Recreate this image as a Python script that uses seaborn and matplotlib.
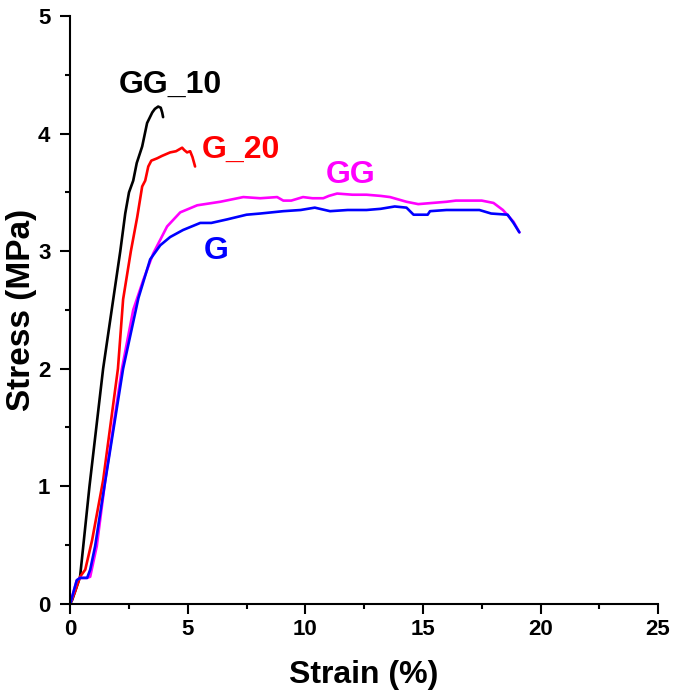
import seaborn as sns
import matplotlib.pyplot as plt
import matplotlib.ticker as mticker
import pandas as pd

# stress-strain curves (strain %, stress MPa)
gg10_strain = [0, 0.08, 0.42, 0.82, 1.4, 1.83, 2.13, 2.34, 2.5, 2.68, 2.83, 3.06, 3.27,
               3.49, 3.6, 3.74, 3.85, 3.91, 3.95]
gg10_stress = [0, 0.03, 0.23, 1.0, 2.0, 2.59, 3.0, 3.32, 3.5, 3.6, 3.75, 3.89, 4.09,
               4.18, 4.21, 4.23, 4.22, 4.18, 4.14]

g20_strain = [0, 0.2, 0.42, 0.64, 0.93, 1.4, 2.03, 2.25, 2.58, 2.85, 3.06, 3.19, 3.32,
              3.45, 3.7, 3.9, 4.25, 4.5, 4.76, 4.85, 4.97, 5.1, 5.2, 5.31]
g20_stress = [0, 0.1, 0.23, 0.29, 0.54, 1.05, 2.0, 2.59, 3.0, 3.29, 3.55, 3.6, 3.72,
              3.77, 3.79, 3.81, 3.84, 3.85, 3.88, 3.86, 3.84, 3.85, 3.8, 3.72]

gg_strain = [0, 0.28, 0.42, 0.72, 0.85, 1.13, 1.49, 2.2, 2.68, 3.1, 3.53, 4.12, 4.68,
             5.4, 6.38, 7.36, 8.08, 8.8, 9.06, 9.4, 9.9, 10.3, 10.76, 11.0, 11.35, 12.0,
             12.6, 13.2, 13.6, 14.3, 14.8, 15.4, 16.0, 16.4, 17.5, 18.0, 18.4, 18.85, 19.1]
gg_stress = [0, 0.2, 0.22, 0.22, 0.23, 0.49, 1.05, 2.0, 2.5, 2.75, 2.98, 3.21, 3.33,
             3.39, 3.42, 3.46, 3.45, 3.46, 3.43, 3.43, 3.46, 3.45, 3.45, 3.47, 3.49, 3.48,
             3.48, 3.47, 3.46, 3.42, 3.40, 3.41, 3.42, 3.43, 3.43, 3.41, 3.35, 3.25, 3.16]

g_strain = [0, 0.28, 0.42, 0.72, 0.85, 1.06, 1.36, 2.25, 2.9, 3.4, 3.83, 4.25, 4.8,
            5.53, 6.0, 6.67, 7.5, 8.08, 9.06, 9.8, 10.4, 11.05, 11.8, 12.6, 13.2, 13.8,
            14.3, 14.6, 15.2, 15.3, 16.0, 17.4, 17.9, 18.6, 18.85, 19.1]
g_stress = [0, 0.2, 0.22, 0.22, 0.29, 0.49, 0.88, 2.0, 2.6, 2.93, 3.05, 3.12, 3.18,
            3.24, 3.24, 3.27, 3.31, 3.32, 3.34, 3.35, 3.37, 3.34, 3.35, 3.35, 3.36, 3.38,
            3.37, 3.31, 3.31, 3.34, 3.35, 3.35, 3.32, 3.31, 3.24, 3.16]

samples = ["GG_10", "G_20", "GG", "G"]
colors = {"GG_10": "black", "G_20": "#ff0000", "GG": "#ff00ff", "G": "#0000ff"}
label_pos = {"GG_10": (4.27, 4.35), "G_20": (7.27, 3.79), "GG": (11.93, 3.58), "G": (6.19, 2.93)}

curves = {"GG_10": (gg10_strain, gg10_stress), "G_20": (g20_strain, g20_stress),
          "GG": (gg_strain, gg_stress), "G": (g_strain, g_stress)}
frames = []
for name in samples:
    s, t = curves[name]
    frames.append(pd.DataFrame({"strain": s, "stress": t, "sample": name}))
df = pd.concat(frames, ignore_index=True)

sns.set_style("ticks")
plt.rcParams['font.family'] = ['Liberation Sans', 'DejaVu Sans']
plt.rcParams['font.weight'] = 'bold'
for key in ["text.color", "axes.labelcolor", "xtick.color", "ytick.color", "axes.edgecolor"]:
    plt.rcParams[key] = "black"

fig = plt.figure(figsize=(6.75, 6.98), dpi=100)
ax = fig.add_axes([0.104, 0.135, 0.871, 0.842])

sns.lineplot(data=df, x="strain", y="stress", hue="sample", palette=colors,
             hue_order=samples, sort=False, estimator=None, units="sample",
             linewidth=1.9, legend=False, ax=ax)

for name in samples:
    x, y = label_pos[name]
    ax.text(x, y, name, color=colors[name], fontsize=23, fontweight="bold",
            ha="center", va="baseline")

ax.set_xlim(0, 25)
ax.set_ylim(0, 5)
ax.xaxis.set_major_locator(mticker.MultipleLocator(5))
ax.xaxis.set_minor_locator(mticker.MultipleLocator(2.5))
ax.yaxis.set_major_locator(mticker.MultipleLocator(1))
ax.yaxis.set_minor_locator(mticker.MultipleLocator(0.5))
ax.tick_params(which="major", length=7.2, width=1.5, labelsize=16)
ax.tick_params(which="minor", length=3.6, width=1.5)
ax.tick_params(axis="x", pad=4)
ax.tick_params(axis="y", pad=7)
for lab in ax.get_xticklabels() + ax.get_yticklabels():
    lab.set_fontweight("bold")
sns.despine(ax=ax)
for sp in ["left", "bottom"]:
    ax.spines[sp].set_linewidth(1.5)

ax.set_xlabel("Strain (%)", fontsize=23, fontweight="bold", labelpad=14)
ax.set_ylabel("Stress (MPa)", fontsize=24, fontweight="bold", labelpad=1)

fig.savefig("out.png", dpi=100)
